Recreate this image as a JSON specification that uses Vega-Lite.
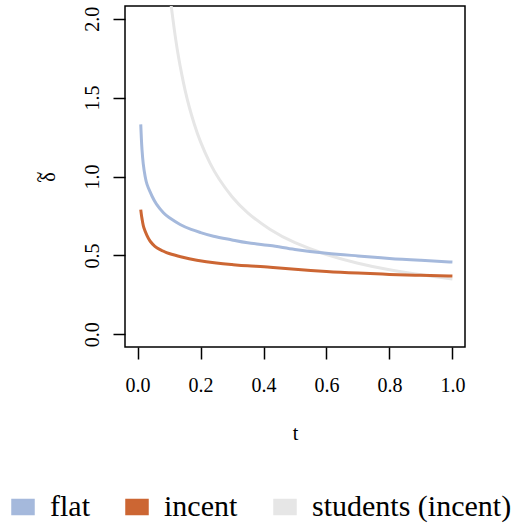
{
  "$schema": "https://vega.github.io/schema/vega-lite/v6.json",
  "autosize": {"type": "none"},
  "width": 340,
  "height": 341,
  "padding": {"left": 125, "top": 6, "right": 65, "bottom": 178},
  "background": "white",
  "config": {
    "view": {"stroke": "black", "strokeWidth": 1.5},
    "axis": {
      "domain": false, "grid": false, "ticks": true, "tickSize": 12, "tickWidth": 1.5, "tickColor": "black",
      "labelFont": "Liberation Serif", "labelFontSize": 20, "labelColor": "black",
      "titleFont": "Liberation Serif", "titleFontSize": 20, "titleFontWeight": "normal", "titleColor": "black"
    },
    "legend": {
      "labelFont": "Liberation Serif", "labelFontSize": 30, "labelColor": "black", "labelLimit": 0, "padding": 0
    }
  },
  "datasets": {
    "curves": [
      {"series": "students (incent)", "t": 0.105, "d": 2.11},
      {"series": "students (incent)", "t": 0.11, "d": 2.03},
      {"series": "students (incent)", "t": 0.12, "d": 1.883},
      {"series": "students (incent)", "t": 0.13, "d": 1.757},
      {"series": "students (incent)", "t": 0.14, "d": 1.65},
      {"series": "students (incent)", "t": 0.151, "d": 1.546},
      {"series": "students (incent)", "t": 0.165, "d": 1.434},
      {"series": "students (incent)", "t": 0.18, "d": 1.333},
      {"series": "students (incent)", "t": 0.2, "d": 1.219},
      {"series": "students (incent)", "t": 0.23, "d": 1.085},
      {"series": "students (incent)", "t": 0.26, "d": 0.981},
      {"series": "students (incent)", "t": 0.3, "d": 0.872},
      {"series": "students (incent)", "t": 0.35, "d": 0.77},
      {"series": "students (incent)", "t": 0.42, "d": 0.666},
      {"series": "students (incent)", "t": 0.5, "d": 0.581},
      {"series": "students (incent)", "t": 0.6, "d": 0.506},
      {"series": "students (incent)", "t": 0.7, "d": 0.451},
      {"series": "students (incent)", "t": 0.8, "d": 0.409},
      {"series": "students (incent)", "t": 0.9, "d": 0.377},
      {"series": "students (incent)", "t": 1.0, "d": 0.35},
      {"series": "flat", "t": 0.01, "d": 1.33},
      {"series": "flat", "t": 0.012, "d": 1.24},
      {"series": "flat", "t": 0.014, "d": 1.17},
      {"series": "flat", "t": 0.018, "d": 1.08},
      {"series": "flat", "t": 0.024, "d": 1.0},
      {"series": "flat", "t": 0.03, "d": 0.95},
      {"series": "flat", "t": 0.038, "d": 0.91},
      {"series": "flat", "t": 0.046, "d": 0.875},
      {"series": "flat", "t": 0.06, "d": 0.825},
      {"series": "flat", "t": 0.082, "d": 0.77},
      {"series": "flat", "t": 0.1, "d": 0.74},
      {"series": "flat", "t": 0.135, "d": 0.696},
      {"series": "flat", "t": 0.17, "d": 0.665},
      {"series": "flat", "t": 0.2, "d": 0.645},
      {"series": "flat", "t": 0.241, "d": 0.622},
      {"series": "flat", "t": 0.3, "d": 0.598},
      {"series": "flat", "t": 0.35, "d": 0.58},
      {"series": "flat", "t": 0.421, "d": 0.563},
      {"series": "flat", "t": 0.5, "d": 0.538},
      {"series": "flat", "t": 0.6, "d": 0.514},
      {"series": "flat", "t": 0.7, "d": 0.497},
      {"series": "flat", "t": 0.8, "d": 0.481},
      {"series": "flat", "t": 0.9, "d": 0.469},
      {"series": "flat", "t": 1.0, "d": 0.458},
      {"series": "incent", "t": 0.01, "d": 0.79},
      {"series": "incent", "t": 0.013, "d": 0.745},
      {"series": "incent", "t": 0.016, "d": 0.71},
      {"series": "incent", "t": 0.02, "d": 0.675},
      {"series": "incent", "t": 0.03, "d": 0.625},
      {"series": "incent", "t": 0.04, "d": 0.59},
      {"series": "incent", "t": 0.055, "d": 0.558},
      {"series": "incent", "t": 0.07, "d": 0.538},
      {"series": "incent", "t": 0.082, "d": 0.527},
      {"series": "incent", "t": 0.1, "d": 0.512},
      {"series": "incent", "t": 0.14, "d": 0.49},
      {"series": "incent", "t": 0.188, "d": 0.47},
      {"series": "incent", "t": 0.25, "d": 0.452},
      {"series": "incent", "t": 0.3, "d": 0.442},
      {"series": "incent", "t": 0.35, "d": 0.434},
      {"series": "incent", "t": 0.421, "d": 0.425},
      {"series": "incent", "t": 0.5, "d": 0.412},
      {"series": "incent", "t": 0.6, "d": 0.398},
      {"series": "incent", "t": 0.7, "d": 0.388},
      {"series": "incent", "t": 0.8, "d": 0.38},
      {"series": "incent", "t": 0.9, "d": 0.374},
      {"series": "incent", "t": 1.0, "d": 0.369}
    ]
  },
  "data": {"name": "curves"},
  "encoding": {
    "x": {
      "field": "t", "type": "quantitative",
      "scale": {"domain": [-0.04, 1.04], "nice": false, "zero": false},
      "axis": {"values": [0, 0.2, 0.4, 0.6, 0.8, 1.0], "format": ".1f", "labelPadding": 16, "title": "t", "titlePadding": 28}
    },
    "y": {
      "field": "d", "type": "quantitative",
      "scale": {"domain": [-0.08, 2.08], "nice": false, "zero": false},
      "axis": {"values": [0, 0.5, 1.0, 1.5, 2.0], "format": ".1f", "labelAngle": -90, "labelAlign": "center", "labelBaseline": "alphabetic", "labelPadding": 15, "title": ["~", "δ"], "titleLineHeight": 9, "titleFontSize": 20, "titlePadding": 24}
    },
    "color": {
      "field": "series", "type": "nominal",
      "scale": {"domain": ["flat", "incent", "students (incent)"], "range": ["#a5b9dc", "#cc6633", "#e6e6e6"]},
      "legend": {
        "title": null, "orient": "none", "direction": "horizontal", "columns": 3,
        "legendX": -117, "legendY": 486, "columnPadding": 32,
        "symbolType": "M-1,-0.68H1V0.68H-1Z", "symbolSize": 484, "symbolStrokeColor": "#333333", "symbolStrokeWidth": 1.5,
        "symbolOpacity": 1, "symbolFillColor": "#cccccc", "labelOffset": 12
      }
    }
  },
  "layer": [
    {"transform": [{"filter": "false"}], "mark": {"type": "point", "filled": true, "shape": "M-1,-0.68H1V0.68H-1Z", "stroke": "#333333", "strokeWidth": 1.5, "opacity": 1}},
    {"transform": [{"filter": "datum.series == 'students (incent)'"}], "mark": {"type": "line", "strokeWidth": 3, "clip": true, "interpolate": "natural"}},
    {"transform": [{"filter": "datum.series == 'flat'"}], "mark": {"type": "line", "strokeWidth": 3, "clip": true, "interpolate": "natural"}},
    {"transform": [{"filter": "datum.series == 'incent'"}], "mark": {"type": "line", "strokeWidth": 3, "clip": true, "interpolate": "natural"}}
  ]
}
